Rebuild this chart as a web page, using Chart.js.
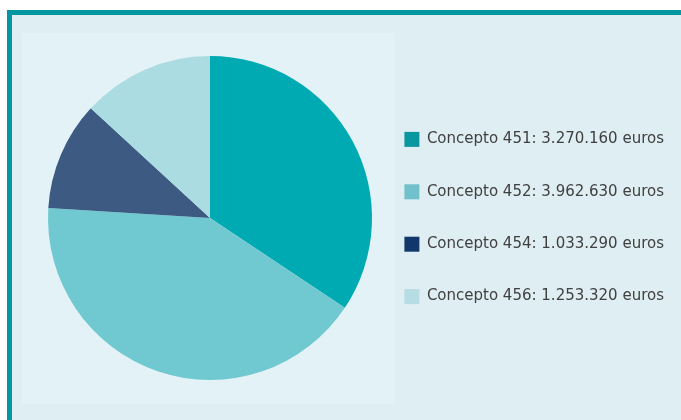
<!DOCTYPE html>
<html>
<head>
<meta charset="utf-8">
<script src="https://cdn.jsdelivr.net/npm/chart.js@4"></script>
<style>
  html, body { margin:0; padding:0; background:#fff; }
  body { width:681px; height:420px; position:relative; overflow:hidden; }
  #frame { position:absolute; left:7px; top:10px; right:0; bottom:0;
           border-top:5px solid #0097a0; border-left:5px solid #0097a0; background:#dfeef2; }
  #plotbg { position:absolute; left:22px; top:33px; width:373px; height:371px; background:#e3f2f6; }
  #wrap { position:absolute; left:12px; top:16px; width:669px; height:404px; }
</style>
</head>
<body>
<div id="frame"></div>
<div id="plotbg"></div>
<div id="wrap"><canvas id="chart"></canvas></div>
<script>
// values (euros)
const concepts = ['Concepto 451', 'Concepto 452', 'Concepto 454', 'Concepto 456'];
const amounts = [3270160, 3962630, 1033290, 1253320];
const amountLabels = ['3.270.160', '3.962.630', '1.033.290', '1.253.320'];
const sliceColors = ['#00aab3', '#70c9d0', '#3c5a82', '#aadce1'];
const legendColors = ['#0b97a0', '#72c0cb', '#12376a', '#b5dde3'];

const ctx = document.getElementById('chart').getContext('2d');
new Chart(ctx, {
  type: 'pie',
  data: {
    labels: concepts,
    datasets: [{ data: amounts, backgroundColor: sliceColors, borderWidth: 0, radius: 162 }]
  },
  options: {
    responsive: true,
    maintainAspectRatio: false,
    animation: false,
    layout: { padding: { left: 41, right: 7, top: 0, bottom: 0 } },
    plugins: {
      tooltip: { enabled: false },
      legend: {
        position: 'right',
        labels: {
          font: { family: 'DejaVu Sans', size: 15 },
          color: '#404040',
          boxWidth: 15,
          boxHeight: 15,
          padding: 37.4,
          generateLabels: (chart) => concepts.map((c, i) => ({
            text: c + ': ' + amountLabels[i] + ' euros',
            fillStyle: legendColors[i],
            strokeStyle: legendColors[i],
            lineWidth: 0,
            fontColor: '#404040',
            index: i
          }))
        }
      }
    }
  }
});
</script>
</body>
</html>
